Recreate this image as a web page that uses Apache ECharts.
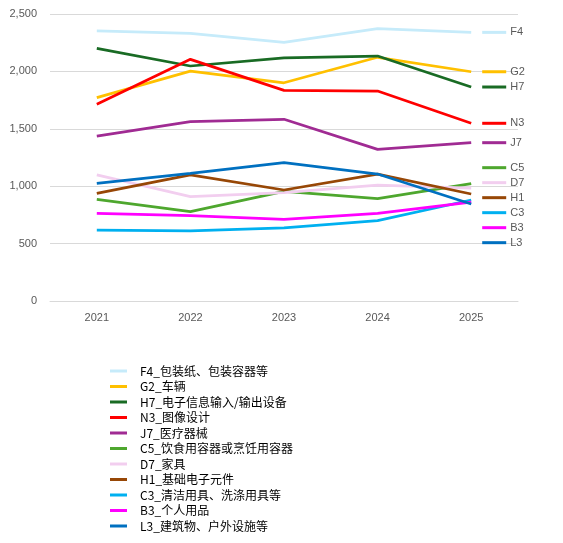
<!DOCTYPE html>
<html>
<head>
<meta charset="utf-8">
<script src="https://cdn.jsdelivr.net/npm/echarts@6/dist/echarts.min.js"></script>
<style>
	html, body { margin: 0; padding: 0; background: #fff; }
	#main { width: 563px; height: 543px; }
</style>
</head>
<body>
<div id="main"></div>
<script>
var years = ['2021', '2022', '2023', '2024', '2025'];

var codes = ['F4', 'G2', 'H7', 'N3', 'J7', 'C5', 'D7', 'H1', 'C3', 'B3', 'L3'];
var names = [
	'F4_包装纸、包装容器等',
	'G2_车辆',
	'H7_电子信息输入/输出设备',
	'N3_图像设计',
	'J7_医疗器械',
	'C5_饮食用容器或烹饪用容器',
	'D7_家具',
	'H1_基础电子元件',
	'C3_清洁用具、洗涤用具等',
	'B3_个人用品',
	'L3_建筑物、户外设施等'
];
var colors = ['#C6EBFA', '#FFC000', '#196B24', '#FF0000', '#A02B93', '#4EA72E',
	'#F2CEEF', '#974706', '#00B0F0', '#FF00FF', '#0070C0'];

var F4 = [2352, 2331, 2253, 2372, 2340];
var G2 = [1771, 2003, 1901, 2123, 1997];
var H7 = [2201, 2047, 2117, 2134, 1864];
var N3 = [1713, 2105, 1835, 1829, 1548];
var J7 = [1437, 1562, 1583, 1321, 1379];
var C5 = [886, 778, 955, 891, 1022];
var D7 = [1098, 909, 945, 1010, 983];
var H1 = [938, 1098, 967, 1106, 932];
var C3 = [618, 610, 638, 700, 880];
var B3 = [764, 743, 712, 764, 862];
var L3 = [1025, 1112, 1205, 1106, 845];

var values = [F4, G2, H7, N3, J7, C5, D7, H1, C3, B3, L3];

var myChart = echarts.init(document.getElementById('main'));

var series = values.map(function(v, i) {
	// the crowded bottom group of end labels is spread around its values, not only downward
	var crowded = v[v.length - 1] < 1100;
	return {
		name: names[i],
		type: 'line',
		data: v,
		symbol: 'none',
		color: colors[i],
		lineStyle: { width: 2.75, color: colors[i] },
		endLabel: {
			show: true,
			distance: 11,
			lineHeight: 15,
			formatter: function() { return '{l|}{t|' + codes[i] + '}'; },
			rich: {
				l: { width: 24, height: 3, lineHeight: 15, backgroundColor: colors[i] },
				t: { color: '#595959', fontSize: 11, lineHeight: 15, padding: [0, 0, 0, 4], fontFamily: 'Liberation Sans' }
			}
		},
		labelLayout: { moveOverlap: 'shiftY', dy: crowded ? -16 : 0 },
		emphasis: { disabled: true }
	};
});

var option = {
	animation: false,
	grid: { left: 50, right: 45, top: 14, bottom: 242 },
	legend: {
		orient: 'vertical',
		left: 105,
		top: 360,
		icon: 'rect',
		itemWidth: 17,
		itemHeight: 3,
		itemGap: 3.5,
		data: names,
		textStyle: {
			fontFamily: 'Noto Sans CJK SC',
			fontSize: 12,
			lineHeight: 12,
			color: '#000',
			padding: [0, 0, 0, 8]
		}
	},
	xAxis: {
		type: 'category',
		data: years,
		axisLine: { lineStyle: { color: '#D9D9D9' } },
		axisTick: { show: false },
		axisLabel: { color: '#595959', fontSize: 11, margin: 11, fontFamily: 'Liberation Sans' }
	},
	yAxis: {
		type: 'value',
		min: 0,
		max: 2500,
		interval: 500,
		axisLabel: {
			color: '#595959',
			fontSize: 11,
			margin: 13,
			fontFamily: 'Liberation Sans',
			formatter: function(v) { return v.toLocaleString('en-US'); }
		},
		splitLine: { lineStyle: { color: '#D9D9D9' } }
	},
	series: series
};

myChart.setOption(option);
</script>
</body>
</html>
